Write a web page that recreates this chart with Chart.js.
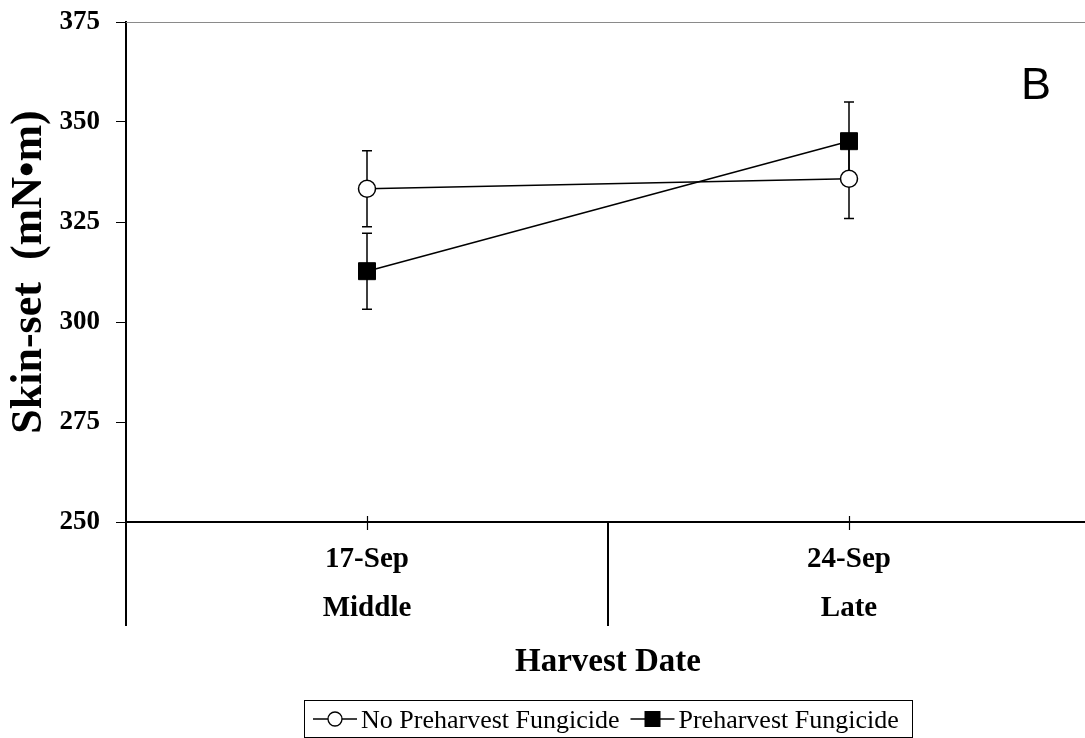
<!DOCTYPE html>
<html>
<head>
<meta charset="utf-8">
<title>Skin-set by harvest date</title>
<script src="https://cdn.jsdelivr.net/npm/chart.js@4.4.1/dist/chart.umd.min.js"></script>
<style>
    html, body { margin: 0; padding: 0; background: #fff; overflow: hidden; }
    #wrap { width: 1085px; height: 738px; overflow: hidden; }
    canvas { display: block; }
</style>
</head>
<body>
<div id="wrap"><canvas id="skinSetChart" width="1090" height="738"></canvas></div>
<script>
// harvest dates and stages (two-line category labels)
const harvestDates = ['17-Sep', '24-Sep'];
const harvestStages = ['Middle', 'Late'];

// skin-set means and error bar half-widths
const noFungicide = [333.3, 335.8];
const noFungicideErr = [9.5, 9.9];
const fungicide = [312.7, 345.2];
const fungicideErr = [9.5, 9.8];

const yTicks = [250, 275, 300, 325, 350, 375];

const serif = "'Liberation Serif', 'Times New Roman', serif";

// vertical error bars with caps, drawn under the markers
const errorBarsPlugin = {
    id: 'errorBars',
    beforeDatasetsDraw(chart) {
        const ctx = chart.ctx;
        const yScale = chart.scales.y;
        ctx.save();
        ctx.strokeStyle = '#000';
        ctx.lineWidth = 1.5;
        chart.data.datasets.forEach((ds, i) => {
            const meta = chart.getDatasetMeta(i);
            meta.data.forEach((pt, j) => {
                const top = yScale.getPixelForValue(ds.data[j] + ds.errorBars[j]);
                const bottom = yScale.getPixelForValue(ds.data[j] - ds.errorBars[j]);
                ctx.beginPath();
                ctx.moveTo(pt.x, top);
                ctx.lineTo(pt.x, bottom);
                ctx.moveTo(pt.x - 5, top);
                ctx.lineTo(pt.x + 5, top);
                ctx.moveTo(pt.x - 5, bottom);
                ctx.lineTo(pt.x + 5, bottom);
                ctx.stroke();
            });
        });
        ctx.restore();
    }
};

// frame pieces the axes don't draw: top border, category dividers, crossing ticks
const frameExtrasPlugin = {
    id: 'frameExtras',
    afterDraw(chart) {
        const ctx = chart.ctx;
        const area = chart.chartArea;
        const xScale = chart.scales.x;
        const labelBottom = 626;
        ctx.save();

        ctx.strokeStyle = '#8a8a8a';
        ctx.lineWidth = 1;
        ctx.beginPath();
        ctx.moveTo(area.left, area.top + 0.5);
        ctx.lineTo(area.right, area.top + 0.5);
        ctx.stroke();

        ctx.strokeStyle = '#000';
        ctx.lineWidth = 2;
        ctx.beginPath();
        ctx.moveTo(area.left, area.bottom);
        ctx.lineTo(area.left, labelBottom);
        for (let i = 0; i < harvestDates.length - 1; i++) {
            const mid = (xScale.getPixelForTick(i) + xScale.getPixelForTick(i + 1)) / 2;
            ctx.moveTo(mid, area.bottom);
            ctx.lineTo(mid, labelBottom);
        }
        ctx.stroke();

        ctx.lineWidth = 1.2;
        ctx.beginPath();
        for (let i = 0; i < harvestDates.length; i++) {
            const px = Math.round(xScale.getPixelForTick(i)) + 0.5;
            ctx.moveTo(px, area.bottom - 6);
            ctx.lineTo(px, area.bottom + 8);
        }
        ctx.stroke();

        // panel letter
        ctx.fillStyle = '#000';
        ctx.font = "45px 'Liberation Sans', Arial, sans-serif";
        ctx.textAlign = 'left';
        ctx.textBaseline = 'alphabetic';
        ctx.fillText('B', 1021, 99);

        ctx.restore();
    }
};

// boxed legend with line+marker samples
const boxLegendPlugin = {
    id: 'boxLegend',
    afterDraw(chart) {
        const ctx = chart.ctx;
        const datasets = chart.data.datasets;
        const cx = 608;
        const top = 700, height = 37, midY = 719, baseline = 728;
        const sampleW = 44, textGap = 4, itemGap = 11, padL = 9, padR = 6;

        ctx.save();
        ctx.font = '26px ' + serif;
        const widths = datasets.map(ds => ctx.measureText(ds.label).width);
        let total = padL + padR + itemGap * (datasets.length - 1);
        widths.forEach(w => { total += sampleW + textGap + w; });
        total = Math.max(total, 608);
        const left = Math.round(cx - total / 2);

        ctx.strokeStyle = '#000';
        ctx.lineWidth = 1;
        ctx.strokeRect(left + 0.5, top + 0.5, total, height);

        let x = left + padL;
        datasets.forEach((ds, i) => {
            ctx.strokeStyle = '#000';
            ctx.lineWidth = 1.3;
            ctx.beginPath();
            ctx.moveTo(x, midY);
            ctx.lineTo(x + sampleW, midY);
            ctx.stroke();
            const mx = x + sampleW / 2;
            if (ds.pointStyle === 'rect') {
                ctx.fillStyle = '#000';
                ctx.fillRect(mx - 8, midY - 8, 16, 16);
            } else {
                ctx.beginPath();
                ctx.arc(mx, midY, 7, 0, Math.PI * 2);
                ctx.fillStyle = '#fff';
                ctx.fill();
                ctx.stroke();
            }
            ctx.fillStyle = '#000';
            ctx.textAlign = 'left';
            ctx.textBaseline = 'alphabetic';
            ctx.fillText(ds.label, x + sampleW + textGap, baseline);
            x += sampleW + textGap + widths[i] + itemGap;
        });
        ctx.restore();
    }
};

document.addEventListener('DOMContentLoaded', function () {
    const ctx = document.getElementById('skinSetChart');

    new Chart(ctx, {
        type: 'line',
        data: {
            labels: harvestDates.map((d, i) => [d, harvestStages[i]]),
            datasets: [{
                label: 'No Preharvest Fungicide',
                data: noFungicide,
                errorBars: noFungicideErr,
                borderColor: '#000',
                borderWidth: 1.5,
                pointStyle: 'circle',
                pointRadius: 8.5,
                pointBackgroundColor: '#fff',
                pointBorderColor: '#000',
                pointBorderWidth: 1.5,
                tension: 0
            }, {
                label: 'Preharvest Fungicide',
                data: fungicide,
                errorBars: fungicideErr,
                borderColor: '#000',
                borderWidth: 1.5,
                pointStyle: 'rect',
                pointRadius: 12,
                pointBackgroundColor: '#000',
                pointBorderColor: '#000',
                pointBorderWidth: 1,
                tension: 0
            }]
        },
        options: {
            responsive: false,
            animation: false,
            layout: { autoPadding: false, padding: { top: 22, left: 0, right: 0, bottom: 0 } },
            plugins: {
                legend: { display: false },
                tooltip: { enabled: false }
            },
            scales: {
                x: {
                    type: 'category',
                    offset: true,
                    grid: { display: true, drawOnChartArea: false, drawTicks: false, color: '#000', lineWidth: 1 },
                    border: { display: true, color: '#000', width: 2 },
                    ticks: {
                        color: '#000',
                        padding: 13,
                        maxRotation: 0,
                        autoSkip: false,
                        font: { family: serif, size: 29, weight: 'bold', lineHeight: 49 / 29 }
                    },
                    title: {
                        display: true,
                        text: 'Harvest Date',
                        color: '#000',
                        font: { family: serif, size: 33, weight: 'bold', lineHeight: 1 },
                        padding: { top: 0, bottom: 59 }
                    },
                    afterFit: function (scale) {
                        scale.height = 216;
                        scale.paddingLeft = 0;
                        scale.paddingRight = 0;
                    }
                },
                y: {
                    min: yTicks[0],
                    max: yTicks[yTicks.length - 1],
                    grid: { drawOnChartArea: false, drawTicks: true, tickLength: 10, color: '#000', lineWidth: 1 },
                    border: { display: true, color: '#000', width: 2 },
                    ticks: {
                        stepSize: yTicks[1] - yTicks[0],
                        color: '#000',
                        padding: 16,
                        font: { family: serif, size: 27, weight: 'bold' }
                    },
                    title: {
                        display: true,
                        text: 'Skin-set  (mN•m)',
                        color: '#000',
                        font: { family: serif, size: 44, weight: 'bold', lineHeight: 1 },
                        padding: { top: 8, bottom: 0 }
                    },
                    afterFit: function (scale) {
                        scale.width = 126;
                        scale.paddingTop = 0;
                        scale.paddingBottom = 0;
                    }
                }
            }
        },
        plugins: [errorBarsPlugin, frameExtrasPlugin, boxLegendPlugin]
    });
});
</script>
</body>
</html>
